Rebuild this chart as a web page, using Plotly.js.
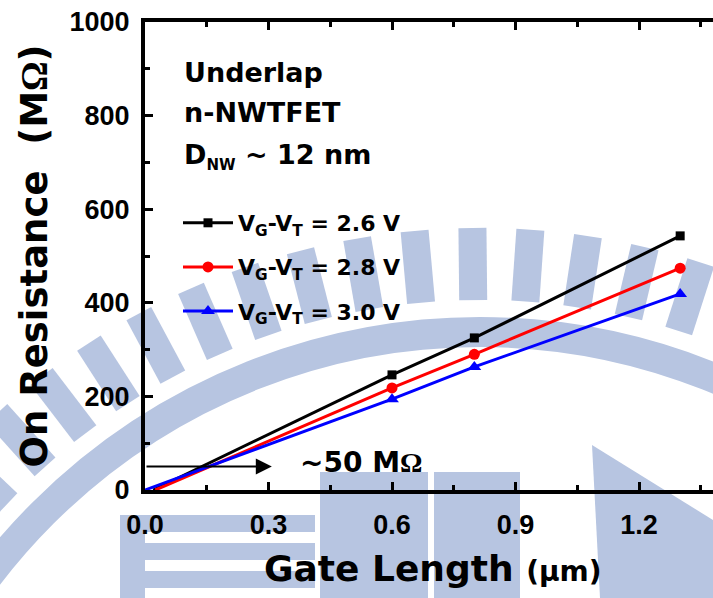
<!DOCTYPE html>
<html><head><meta charset="utf-8">
<script src="https://cdn.plot.ly/plotly-3.0.1.min.js"></script>
<style>html,body{margin:0;padding:0;overflow:hidden;background:#fff}#chart{width:800px;height:598px}</style>
</head><body><div id="chart"></div>
<script>
// ---- data ----
const gateLength = [0.6, 0.8, 1.3];
const seriesNames = ['V<sub>G</sub>-V<sub>T</sub> = 2.6 V', 'V<sub>G</sub>-V<sub>T</sub> = 2.8 V', 'V<sub>G</sub>-V<sub>T</sub> = 3.0 V'];
const ron26 = [246, 325, 543];
const ron28 = [218, 290, 474];
const ron30 = [194, 263, 419];
const fitStartX = [0.02, 0.025, 0.0];   // where each extrapolated line meets 0 MΩ
const fitStartY = [0, 0, 0];
const xTickVals = [0, 0.3, 0.6, 0.9, 1.2];
const xTickText = ['0.0', '0.3', '0.6', '0.9', '1.2'];
const yTickVals = [0, 200, 400, 600, 800, 1000];
const yTickText = ['0', '200', '400', '600', '800', '1000'];
const arrowLevel = 50;   // ~50 MΩ
const arrowEndX = 0.308;

// ---- styles ----
const colors = ['#000000', '#ff0000', '#0000ff'];
const symbols = ['square', 'circle', 'triangle-up'];
const msizes = [9, 11, 12];
const series = [ron26, ron28, ron30];
const SANS = 'DejaVu Sans';
const TICKF = 'Liberation Sans';

const W = 800, H = 598, ML = 145, MR = 20, MT = 22, MB = 108;
const PW = W - ML - MR, PH = H - MT - MB;
const pxPerX = 411.67;
const xMax = PW / pxPerX;

const traces = [];
series.forEach((s, i) => {
  traces.push({
    x: [fitStartX[i], gateLength[0]], y: [fitStartY[i], s[0]],
    mode: 'lines', line: {color: colors[i], width: 3},
    showlegend: false, hoverinfo: 'skip', legendgroup: 'g' + i
  });
});
series.forEach((s, i) => {
  traces.push({
    x: gateLength, y: s, name: seriesNames[i], legendgroup: 'g' + i,
    mode: 'lines+markers',
    line: {color: colors[i], width: 3},
    marker: {symbol: symbols[i], size: msizes[i], color: colors[i]}
  });
});

// watermark helpers (pixel -> paper)
const px = x => (x - ML) / PW;
const py = y => (MT + PH - y) / PH;
const WM = '#b7c5e1';
const shapes = [];
const cx = 480, cy = 950;
function ring(r, t) {
  shapes.push({type: 'circle', xref: 'paper', yref: 'paper', layer: 'below',
    x0: px(cx - r), x1: px(cx + r), y0: py(cy + r), y1: py(cy - r),
    line: {color: WM, width: t}, fillcolor: 'rgba(0,0,0,0)'});
}
ring(618, 30);
for (let a = -178; a <= -2; a += 4.6) {
  const r0 = 650, r1 = 722, hw = 14;
  const t = a * Math.PI / 180;
  const ux = Math.cos(t), uy = Math.sin(t), vx = -uy, vy = ux;
  const pts = [
    [cx + r0 * ux - hw * vx, cy + r0 * uy - hw * vy],
    [cx + r1 * ux - hw * vx, cy + r1 * uy - hw * vy],
    [cx + r1 * ux + hw * vx, cy + r1 * uy + hw * vy],
    [cx + r0 * ux + hw * vx, cy + r0 * uy + hw * vy]
  ];
  const path = 'M' + pts.map(p => px(p[0]).toFixed(4) + ',' + py(p[1]).toFixed(4)).join('L') + 'Z';
  shapes.push({type: 'path', xref: 'paper', yref: 'paper', layer: 'below', path: path, fillcolor: WM, line: {width: 0}});
}
function rect(x0, y0, x1, y1) {
  shapes.push({type: 'rect', xref: 'paper', yref: 'paper', layer: 'below',
    x0: px(x0), x1: px(x1), y0: py(y1), y1: py(y0), fillcolor: WM, line: {width: 0}});
}
rect(120, 515, 145, 598);
rect(145, 515, 315, 532);
rect(145, 543, 315, 560);
rect(145, 571, 315, 588);
rect(320, 472, 428, 598);
rect(434, 472, 520, 598);
shapes.push({type: 'path', xref: 'paper', yref: 'paper', layer: 'below', fillcolor: WM, line: {width: 0},
  path: 'M' + px(592) + ',' + py(445) + 'L' + px(713) + ',' + py(520) + 'L' + px(713) + ',' + py(598) + 'L' + px(600) + ',' + py(598) + 'Z'});

const bold = {family: SANS, weight: 700, color: '#000'};
const annotations = [
  {x: 0.09, y: 893, xref: 'x', yref: 'y', xanchor: 'left', yanchor: 'middle', showarrow: false,
   text: 'Underlap', font: Object.assign({size: 27}, bold)},
  {x: 0.09, y: 806, xref: 'x', yref: 'y', xanchor: 'left', yanchor: 'middle', showarrow: false,
   text: 'n-NWTFET', font: Object.assign({size: 27}, bold)},
  {x: 0.09, y: 712, xref: 'x', yref: 'y', xanchor: 'left', yanchor: 'middle', showarrow: false,
   text: 'D<sub><span style="font-size:15px">NW</span></sub> ~ 12 nm', font: Object.assign({size: 27}, bold)},
  {x: arrowEndX, y: arrowLevel, ax: 0, ay: arrowLevel, xref: 'x', yref: 'y', axref: 'x', ayref: 'y',
   text: '', showarrow: true, arrowhead: 2, arrowsize: 1.6, arrowwidth: 2, arrowcolor: '#000', standoff: 0, startstandoff: 0},
  {x: 0.372, y: 58, xref: 'x', yref: 'y', xanchor: 'left', yanchor: 'middle', showarrow: false,
   text: '~50 M<span style="font-family:Liberation Serif">Ω</span>', font: Object.assign({size: 28}, bold)},
  {x: px(433), y: py(568), xref: 'paper', yref: 'paper', xanchor: 'center', yanchor: 'middle', showarrow: false,
   text: 'Gate Length <span style="font-size:28px">(μm)</span>', font: Object.assign({size: 36}, bold)}
];

const layout = {
  width: W, height: H,
  margin: {l: ML, r: MR, t: MT, b: MB},
  paper_bgcolor: '#fff', plot_bgcolor: 'rgba(0,0,0,0)',
  showlegend: true,
  legend: {x: px(178), y: py(202), xanchor: 'left', yanchor: 'top', bgcolor: 'rgba(0,0,0,0)',
    font: {family: SANS, size: 22, weight: 700, color: '#000'}, tracegroupgap: 12.5, itemwidth: 50,
    traceorder: 'grouped'},
  xaxis: {range: [0, xMax], tickmode: 'array', tickvals: xTickVals, ticktext: xTickText,
    ticks: 'inside', ticklen: 8, tickwidth: 3, tickcolor: '#000',
    minor: {dtick: 0.15, tick0: 0, ticks: 'inside', ticklen: 5, tickwidth: 3, tickcolor: '#000'},
    showline: true, linewidth: 4, linecolor: '#000', mirror: 'ticks', showgrid: false, zeroline: false,
    tickfont: {family: TICKF, size: 27, weight: 700, color: '#000'}, ticklabelstandoff: 8},
  yaxis: {range: [0, 1000], tickmode: 'array', tickvals: yTickVals, ticktext: yTickText,
    ticks: 'inside', ticklen: 8, tickwidth: 3, tickcolor: '#000',
    minor: {dtick: 100, tick0: 0, ticks: 'inside', ticklen: 5, tickwidth: 3, tickcolor: '#000'},
    showline: true, linewidth: 4, linecolor: '#000', mirror: 'ticks', showgrid: false, zeroline: false,
    tickfont: {family: TICKF, size: 27, weight: 700, color: '#000'}, ticklabelstandoff: 6,
    title: {text: 'On Resistance  (M<span style="font-family:Liberation Serif">Ω</span>)', standoff: 12,
      font: {family: SANS, size: 37, weight: 700, color: '#000'}}},
  shapes: shapes,
  annotations: annotations
};

Plotly.newPlot('chart', traces, layout, {displayModeBar: false, staticPlot: true});
</script></body></html>
